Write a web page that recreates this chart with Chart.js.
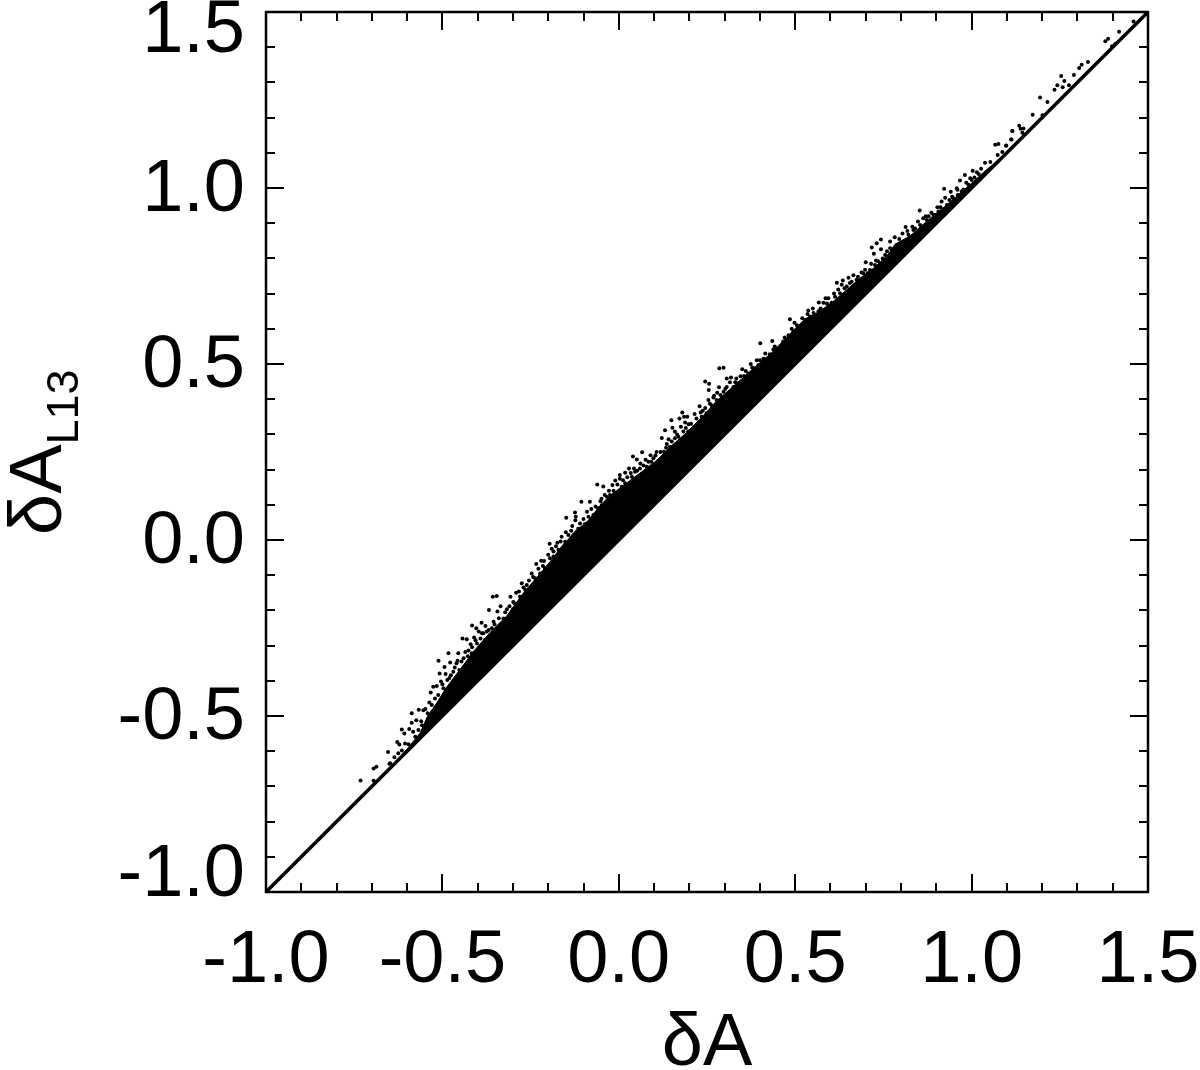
<!DOCTYPE html>
<html>
<head>
<meta charset="utf-8">
<script src="https://cdn.jsdelivr.net/npm/chart.js@4"></script>
<style>
  html, body { margin: 0; padding: 0; background: #fff; }
  canvas { display: block; }
</style>
</head>
<body>
<canvas id="myChart" width="1200" height="1070"></canvas>
<script>
const tickLabels = ['-1.0', '-0.5', '0.0', '0.5', '1.0', '1.5'];
const xTitle = 'δA';
const yTitle = 'δA';
const yTitleSub = 'L13';

// y = x reference line
const lineX = [-1.0, 1.5];
const lineY = [-1.0, 1.5];

// upper edge of the solid part of the cloud
const edgeX = [-0.662, -0.601, -0.563, -0.542, -0.516, -0.488, -0.450, -0.412, -0.365, -0.317, -0.270, -0.232, -0.185, -0.167, -0.147, -0.129, -0.086, -0.053, -0.025, 0.013, 0.060, 0.107, 0.145, 0.192, 0.240, 0.278, 0.315, 0.353, 0.391, 0.438, 0.495, 0.528, 0.570, 0.608, 0.646, 0.684, 0.722, 0.759, 0.783, 0.826, 0.863, 0.901, 0.930, 0.967, 1.005, 1.034, 1.062, 1.137];
const edgeY = [-0.663, -0.595, -0.548, -0.500, -0.463, -0.418, -0.368, -0.317, -0.263, -0.215, -0.150, -0.106, -0.050, -0.024, -0.003, 0.020, 0.056, 0.098, 0.126, 0.155, 0.190, 0.226, 0.264, 0.305, 0.354, 0.396, 0.428, 0.462, 0.496, 0.536, 0.596, 0.628, 0.650, 0.678, 0.711, 0.744, 0.772, 0.806, 0.840, 0.864, 0.897, 0.929, 0.952, 0.985, 1.018, 1.045, 1.068, 1.138];

// single dots above the solid part
const dotX = [-0.732, -0.695, -0.695, -0.687, -0.654, -0.650, -0.636, -0.628, -0.622, -0.615, -0.608, -0.594, -0.587, -0.587, -0.574, -0.567, -0.554, -0.533, -0.526, -0.516, -0.511, -0.508, -0.504, -0.494, -0.491, -0.483, -0.478, -0.476, -0.460, -0.455, -0.457, -0.443, -0.431, -0.435, -0.426, -0.416, -0.410, -0.416, -0.404, -0.397, -0.389, -0.384, -0.369, -0.368, -0.357, -0.346, -0.355, -0.344, -0.335, -0.327, -0.317, -0.307, -0.299, -0.300, -0.291, -0.275, -0.261, -0.247, -0.234, -0.220, -0.215, -0.217, -0.196, -0.185, -0.174, -0.154, -0.140, -0.138,
  -0.149, -0.124, -0.122, -0.123, -0.106, -0.082, -0.135, -0.061, -0.044, -0.049, -0.018, -0.010, 0.003, 0.003, 0.018, 0.029, 0.040, 0.051, 0.043, 0.066, 0.061, 0.090, 0.107, 0.122, 0.131, 0.136, 0.141, 0.149, 0.152, 0.159, 0.172, 0.180, 0.185, 0.194, 0.188, 0.198, 0.215, 0.229, 0.238, 0.245, 0.256, 0.255, 0.254, 0.268, 0.279, 0.284, 0.285, 0.297, 0.306, 0.318, 0.297, 0.333, 0.350, 0.355, 0.374, 0.391, 0.401, 0.415, 0.438, 0.435, 0.462,
  0.485, 0.498, 0.537, 0.550, 0.572, 0.567, 0.580, 0.586, 0.603, 0.594, 0.618, 0.635, 0.651, 0.665, 0.646, 0.632, 0.700, 0.688, 0.705, 0.717, 0.731, 0.743, 0.723, 0.743, 0.729, 0.748, 0.769, 0.769, 0.740, 0.813, 0.804, 0.840, 0.853, 0.863, 0.878, 0.896, 0.903, 0.915, 0.922, 0.941, 0.937, 0.958, 0.967, 0.961, 0.981, 0.977, 1.003, 0.996, 1.015, 1.027, 1.038, 1.053, 1.067, 1.076, 1.074, 1.087, 1.098, 1.113, 1.116,
  1.098, 1.112, 1.115, 1.135, 1.139, 1.147, 1.144, 1.173, 1.194, 1.201, 1.215, 1.235, 1.243, 1.254, 1.263, 1.258, 1.276, 1.290, 1.305, 1.312, 1.330, 1.379, 1.387, 1.407, 1.398, 1.418, 1.459];
const dotY = [-0.683, -0.684, -0.649, -0.644, -0.602, -0.636, -0.617, -0.574, -0.581, -0.538, -0.550, -0.537, -0.492, -0.519, -0.512, -0.482, -0.484, -0.433, -0.417, -0.415, -0.343, -0.379, -0.402, -0.361, -0.381, -0.322, -0.348, -0.384, -0.350, -0.322, -0.343, -0.280, -0.282, -0.318, -0.314, -0.243, -0.277, -0.305, -0.251, -0.260, -0.235, -0.265, -0.256, -0.199, -0.161, -0.159, -0.232, -0.203, -0.188, -0.223, -0.197, -0.161, -0.176, -0.197, -0.150, -0.123, -0.128, -0.095, -0.068, -0.059, -0.074, -0.095, -0.011, -0.033, -0.008, -0.014, -0.005, -0.021,
  0.063, 0.078, 0.066, 0.056, 0.109, 0.109, 0.026, 0.158, 0.152, 0.117, 0.156, 0.169, 0.185, 0.174, 0.191, 0.203, 0.237, 0.229, 0.203, 0.249, 0.217, 0.241, 0.250, 0.290, 0.312, 0.273, 0.286, 0.340, 0.319, 0.308, 0.345, 0.362, 0.350, 0.350, 0.334, 0.329, 0.358, 0.380, 0.367, 0.450, 0.444, 0.426, 0.398, 0.405, 0.418, 0.434, 0.488, 0.489, 0.459, 0.462, 0.421, 0.459, 0.485, 0.466, 0.500, 0.511, 0.559, 0.530, 0.541, 0.565, 0.554,
  0.627, 0.617, 0.652, 0.658, 0.658, 0.675, 0.674, 0.687, 0.674, 0.687, 0.731, 0.737, 0.745, 0.752, 0.720, 0.725, 0.789, 0.760, 0.758, 0.831, 0.843, 0.854, 0.813, 0.826, 0.794, 0.800, 0.848, 0.829, 0.781, 0.889, 0.871, 0.885, 0.936, 0.914, 0.920, 0.923, 0.945, 0.962, 0.998, 0.989, 0.966, 0.999, 1.021, 0.980, 1.037, 0.996, 1.049, 1.028, 1.045, 1.055, 1.072, 1.074, 1.123, 1.125, 1.094, 1.102, 1.120, 1.138, 1.162,
  1.121, 1.138, 1.162, 1.177, 1.168, 1.169, 1.157, 1.208, 1.257, 1.207, 1.244, 1.279, 1.292, 1.318, 1.304, 1.286, 1.292, 1.321, 1.341, 1.350, 1.358, 1.417, 1.424, 1.409, 1.403, 1.444, 1.473];

// dots crowding right along the solid edge
const fringeX = [-0.648, -0.625, -0.615, -0.596, -0.577, -0.568, -0.558, -0.542, -0.530, -0.521, -0.497, -0.486, -0.469, -0.452, -0.440, -0.417, -0.402, -0.388, -0.374, -0.379, -0.360, -0.336, -0.317, -0.303, -0.289, -0.280, -0.265, -0.251, -0.237, -0.223, -0.209, -0.195, -0.185, -0.171, -0.157, -0.143, -0.128, -0.114,
  -0.162, -0.152, -0.143, -0.119, -0.110, -0.096, -0.086, -0.072, -0.058, -0.048, -0.034, -0.025, -0.011, 0.008, 0.018, 0.037, 0.046, 0.060, 0.079, 0.084, 0.098, 0.112, 0.128, 0.145, 0.159, 0.169, 0.183, 0.197, 0.211, 0.226, 0.235, 0.249, 0.263, 0.277, 0.297, 0.306, 0.325, 0.339, 0.367, 0.382, 0.400, 0.419, 0.448, 0.476,
  0.466, 0.481, 0.495, 0.514, 0.528, 0.542, 0.561, 0.580, 0.594, 0.613, 0.627, 0.660, 0.674, 0.693, 0.712, 0.726, 0.755, 0.774, 0.788, 0.807, 0.821, 0.835, 0.854, 0.873, 0.892, 0.906, 0.930, 0.948, 0.972, 0.991, 1.000,
  -0.606, -0.583, -0.560, -0.548, -0.537, -0.512, -0.500, -0.480, -0.465, -0.446, -0.428, -0.420, -0.406, -0.392, -0.378, -0.352, -0.340, -0.322, -0.310, -0.296, -0.283, -0.270, -0.255, -0.243, -0.228, -0.212, -0.200, -0.190, -0.178, -0.165, -0.150, -0.132, -0.115, -0.100, -0.090, -0.078, -0.066, -0.052, -0.040, -0.028, -0.015, -0.004,
  0.012, 0.024, 0.034, 0.052, 0.070, 0.076, 0.092, 0.104, 0.118, 0.134, 0.150, 0.165, 0.176, 0.190, 0.205, 0.220, 0.232, 0.245, 0.258, 0.270, 0.288, 0.302, 0.315, 0.330, 0.345, 0.360, 0.378, 0.396, 0.410, 0.428, 0.442, 0.455, 0.470, 0.490,
  0.505, 0.520, 0.535, 0.552, 0.566, 0.590, 0.610, 0.622, 0.640, 0.655, 0.678, 0.698, 0.715, 0.735, 0.760, 0.782, 0.795, 0.818, 0.832, 0.848, 0.870, 0.886, 0.912, 0.925, 0.945, 0.960, 0.985, 1.008, 1.020];
const fringeY = [-0.634, -0.606, -0.598, -0.580, -0.559, -0.540, -0.526, -0.492, -0.469, -0.450, -0.421, -0.398, -0.374, -0.369, -0.336, -0.322, -0.294, -0.265, -0.260, -0.284, -0.251, -0.241, -0.223, -0.213, -0.185, -0.161, -0.142, -0.137, -0.109, -0.095, -0.080, -0.052, -0.047, -0.028, -0.024, -0.024, -0.019, -0.011,
  0.009, -0.005, 0.014, 0.023, 0.047, 0.045, 0.066, 0.071, 0.090, 0.099, 0.123, 0.128, 0.132, 0.151, 0.161, 0.180, 0.194, 0.203, 0.208, 0.222, 0.232, 0.225, 0.251, 0.265, 0.289, 0.293, 0.308, 0.308, 0.317, 0.331, 0.350, 0.360, 0.383, 0.398, 0.407, 0.435, 0.435, 0.445, 0.473, 0.488, 0.511, 0.511, 0.544, 0.563,
  0.564, 0.582, 0.592, 0.597, 0.625, 0.635, 0.639, 0.653, 0.663, 0.691, 0.701, 0.734, 0.739, 0.758, 0.767, 0.781, 0.810, 0.824, 0.838, 0.848, 0.867, 0.881, 0.895, 0.909, 0.923, 0.933, 0.952, 0.971, 0.990, 1.009, 1.023,
  -0.578, -0.545, -0.515, -0.480, -0.462, -0.440, -0.410, -0.392, -0.362, -0.345, -0.330, -0.296, -0.285, -0.280, -0.244, -0.240, -0.222, -0.205, -0.188, -0.180, -0.146, -0.135, -0.115, -0.105, -0.082, -0.060, -0.042, -0.025, -0.018, -0.004, 0.022, 0.040, 0.032, 0.060, 0.080, 0.088, 0.095, 0.110, 0.128, 0.140, 0.140, 0.158,
  0.170, 0.178, 0.190, 0.197, 0.212, 0.228, 0.222, 0.240, 0.250, 0.262, 0.280, 0.300, 0.322, 0.318, 0.330, 0.345, 0.362, 0.375, 0.388, 0.410, 0.412, 0.430, 0.448, 0.448, 0.465, 0.480, 0.490, 0.497, 0.515, 0.528, 0.550, 0.545, 0.575, 0.600,
  0.610, 0.630, 0.642, 0.645, 0.650, 0.672, 0.700, 0.712, 0.715, 0.730, 0.748, 0.768, 0.785, 0.792, 0.820, 0.860, 0.855, 0.878, 0.890, 0.905, 0.920, 0.930, 0.945, 0.972, 0.975, 0.995, 1.015, 1.030, 1.040];

const zip = (xs, ys) => xs.map((x, i) => ({ x: x, y: ys[i] }));

const labelFont = 'Liberation Sans, Arial, sans-serif';
const labelSize = 74;

const tickText = (value) => {
  const s = value.toFixed(1);
  return tickLabels.includes(s) ? s : '';
};

const fixAxis = (scale, side, size) => {
  scale[side] = size;
  scale.paddingTop = 0;
  scale.paddingBottom = 0;
  scale.paddingLeft = 0;
  scale.paddingRight = 0;
};

// inward ticks on all four sides, and the y label with its subscript
const framePlugin = {
  id: 'frame',
  afterDraw(chart) {
    const { ctx, chartArea: a, scales } = chart;
    ctx.save();
    ctx.strokeStyle = '#000';
    ctx.lineWidth = 2.5;
    ctx.strokeRect(a.left, a.top, a.right - a.left, a.bottom - a.top);
    ctx.lineWidth = 2;
    ctx.beginPath();
    scales.x.ticks.forEach((t) => {
      const p = Math.round(scales.x.getPixelForValue(t.value));
      const len = t.label ? 18 : 9;
      ctx.moveTo(p, a.bottom); ctx.lineTo(p, a.bottom - len);
      ctx.moveTo(p, a.top); ctx.lineTo(p, a.top + len);
    });
    scales.y.ticks.forEach((t) => {
      const p = Math.round(scales.y.getPixelForValue(t.value));
      const len = t.label ? 18 : 9;
      ctx.moveTo(a.left, p); ctx.lineTo(a.left + len, p);
      ctx.moveTo(a.right, p); ctx.lineTo(a.right - len, p);
    });
    ctx.stroke();

    ctx.translate(61, 535);
    ctx.rotate(-Math.PI / 2);
    ctx.fillStyle = '#000';
    ctx.textBaseline = 'alphabetic';
    ctx.textAlign = 'left';
    ctx.font = '74px ' + labelFont;
    ctx.fillText(yTitle, 0, 0);
    const w = ctx.measureText(yTitle).width;
    ctx.font = '45px ' + labelFont;
    ctx.fillText(yTitleSub, w, 17);
    ctx.restore();
  }
};

new Chart(document.getElementById('myChart'), {
  type: 'scatter',
  plugins: [framePlugin],
  data: {
    datasets: [
      {
        label: 'edge',
        data: zip(edgeX, edgeY),
        showLine: true,
        fill: '+1',
        pointRadius: 0,
        borderWidth: 1,
        borderColor: '#000',
        backgroundColor: '#000'
      },
      {
        label: 'y = x',
        data: zip(lineX, lineY),
        showLine: true,
        pointRadius: 0,
        borderWidth: 3.5,
        borderColor: '#000'
      },
      {
        label: 'dots',
        data: zip(dotX, dotY),
        pointRadius: 2,
        pointBorderWidth: 0,
        pointBackgroundColor: '#000'
      },
      {
        label: 'fringe',
        data: zip(fringeX, fringeY),
        pointRadius: 2,
        pointBorderWidth: 0,
        pointBackgroundColor: '#000'
      }
    ]
  },
  options: {
    responsive: false,
    animation: false,
    layout: { padding: { top: 12, right: 52, left: 0, bottom: 0 } },
    plugins: { legend: { display: false }, tooltip: { enabled: false } },
    scales: {
      x: {
        type: 'linear',
        min: -1.0,
        max: 1.5,
        afterFit: (scale) => fixAxis(scale, 'height', 178),
        grid: { display: false, drawTicks: false },
        border: { display: false },
        title: { display: true, text: xTitle, color: '#000', font: { family: labelFont, size: 74 }, padding: { top: 0, bottom: -19 } },
        ticks: {
          stepSize: 0.1,
          autoSkip: false,
          maxRotation: 0,
          minRotation: 0,
          padding: 25,
          color: '#000',
          font: { family: labelFont, size: labelSize },
          callback: tickText
        }
      },
      y: {
        type: 'linear',
        min: -1.0,
        max: 1.5,
        afterFit: (scale) => fixAxis(scale, 'width', 266),
        grid: { display: false, drawTicks: false },
        border: { display: false },
        ticks: {
          stepSize: 0.1,
          autoSkip: false,
          padding: 21,
          color: '#000',
          font: (ctx) => {
            // blank line trick: half the line height moves a label up or down,
            // the two end labels sit inside the axis ends
            const s = ctx.tick ? ctx.tick.value.toFixed(1) : '';
            let shift = 6;
            if (s === '1.5') shift = 40;
            if (s === '-1.0') shift = 32;
            return { family: labelFont, size: labelSize, lineHeight: shift / labelSize };
          },
          callback: (value) => {
            const s = tickText(value);
            if (s === '') return s;
            if (s === '-1.0') return [s, ''];
            return ['', s];
          }
        }
      }
    }
  }
});
</script>
</body>
</html>
